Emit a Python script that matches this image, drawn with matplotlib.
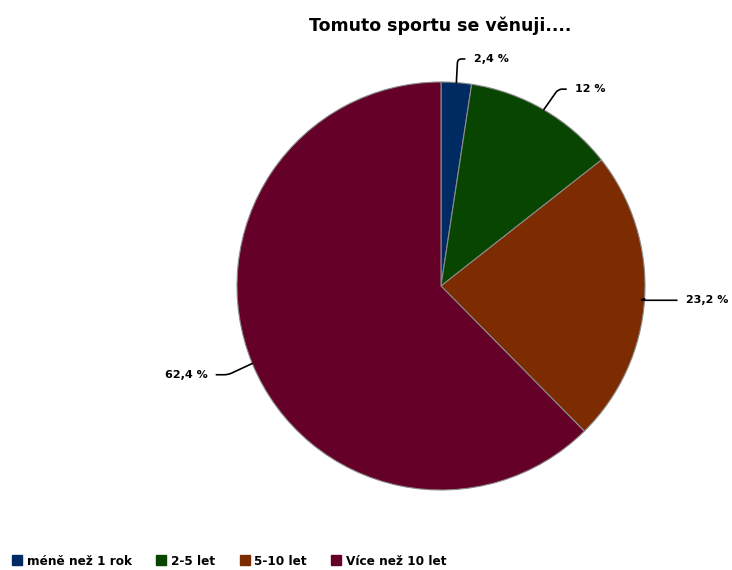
import numpy as np
import matplotlib.pyplot as plt
from matplotlib.lines import Line2D

categories = ['méně než 1 rok', '2-5 let', '5-10 let', 'Více než 10 let']
values = [2.4, 12, 23.2, 62.4]
labels = ['2,4 %', '12 %', '23,2 %', '62,4 %']
colors = ['#002a62', '#074500', '#7c2c00', '#650029']

# where each label text sits (data units, pie radius = 1)
label_pos = [(0.16, 1.113), (0.657, 0.965), (1.20, -0.07), (-1.145, -0.435)]
label_ha = ['left', 'left', 'left', 'right']
# direction of the leader line where it meets the pie
leader_angle = [87, 55, 15, 25]

fig = plt.figure(figsize=(7.32, 5.70), dpi=100)
ax = fig.add_axes([237 / 732, 80 / 570, 408 / 732, 408 / 570])

wedges, _ = ax.pie(values, colors=colors, startangle=90, counterclock=False,
                   radius=1, wedgeprops=dict(edgecolor='#8a8a8a', linewidth=0.8))
ax.set_xlim(-1, 1)
ax.set_ylim(-1, 1)
ax.set_aspect('equal')
ax.axis('off')

total = sum(values)
start = 0
for v, lab, pos, ha, ang in zip(values, labels, label_pos, label_ha, leader_angle):
    mid = (start + v / 2) / total * 2 * np.pi
    start += v
    x, y = np.sin(mid), np.cos(mid)
    relx = 0 if ha == 'left' else 1
    ax.annotate(lab, xy=(x, y), xytext=pos, ha=ha, va='center',
                fontsize=8, fontweight='bold',
                bbox=dict(boxstyle='square,pad=0.8', fc='none', ec='none'),
                arrowprops=dict(arrowstyle='-', color='black', lw=1.2,
                                shrinkA=0, shrinkB=0, relpos=(relx, 0.5),
                                connectionstyle='angle,angleA=0,angleB=%d,rad=4' % ang),
                annotation_clip=False)

fig.text(440 / 732, 1 - 26 / 570, 'Tomuto sportu se věnuji....', ha='center', va='center',
         fontsize=12.5, fontweight='bold')

handles = [Line2D([], [], marker='s', linestyle='none', markersize=7.5,
                  markerfacecolor=c, markeredgecolor=c) for c in colors]
fig.legend(handles, categories, loc='lower left', bbox_to_anchor=(0.0, -0.015), ncol=4,
           frameon=False, prop=dict(size=8.7, weight='bold'), handletextpad=0.3,
           columnspacing=1.95, handlelength=1.0)

fig.savefig('out.png', dpi=100)
